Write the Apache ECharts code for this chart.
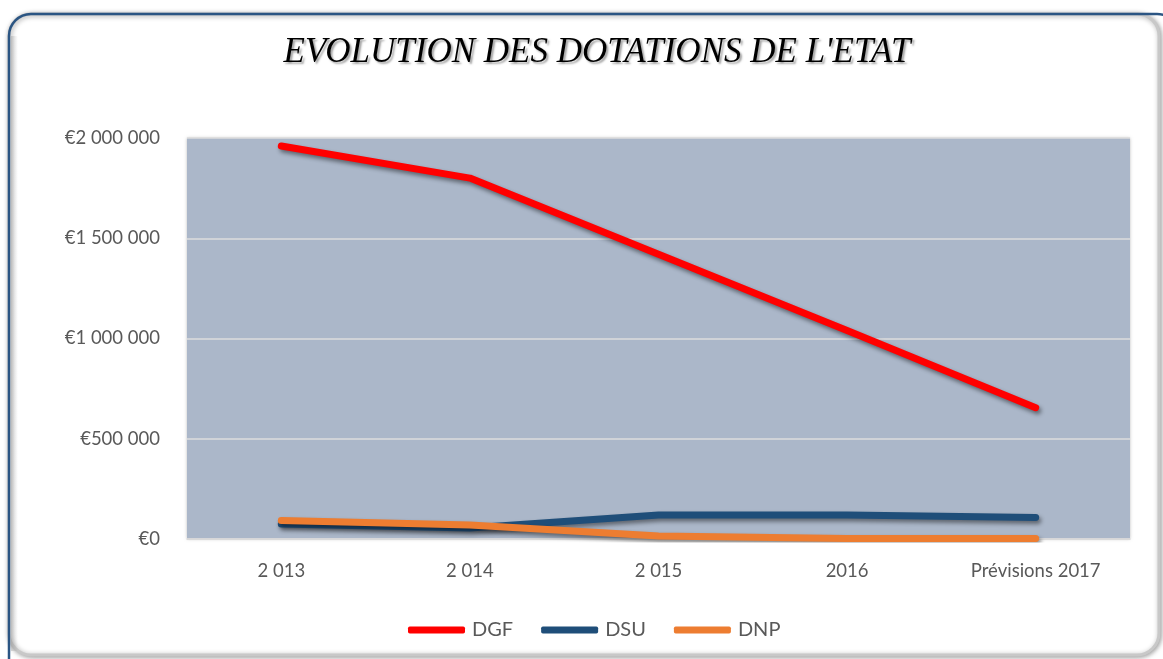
<!DOCTYPE html>
<html>
<head>
<meta charset="utf-8">
<script src="https://cdn.jsdelivr.net/npm/echarts@6/dist/echarts.min.js"></script>
<style>html,body{margin:0;padding:0;background:#fff;}#c{width:1163px;height:659px;}</style>
</head>
<body>
<div id="c"></div>
<script>
var categories = ['2 013', '2 014', '2 015', '2016', 'Prévisions 2017'];
var dgf = [1960000, 1800000, 1420000, 1040000, 655000];
var dsu = [75000, 55000, 120000, 120000, 107000];
var dnp = [92000, 70000, 15000, 3000, 2000];
var yTickLabels = {0: '€0', 500000: '€500 000', 1000000: '€1 000 000', 1500000: '€1 500 000', 2000000: '€2 000 000'};

var chart = echarts.init(document.getElementById('c'));
var lineShadow = {shadowColor: 'rgba(0,0,0,0.45)', shadowBlur: 4, shadowOffsetX: 2, shadowOffsetY: 3};
function mk(name, data, color, w) {
  return {
    name: name, type: 'line', data: data, symbol: 'none', smooth: false,
    lineStyle: Object.assign({color: color, width: w, cap: 'round', join: 'round'}, lineShadow),
    itemStyle: {color: color},
    z: 3
  };
}
chart.setOption({
  animation: false,
  backgroundColor: '#ffffff',
  graphic: [
    {type: 'rect', z: -10, shape: {x: 9, y: 14, width: 1150, height: 641, r: 22},
     style: {fill: '#ffffff', stroke: '#c8c8c8', lineWidth: 3, shadowBlur: 5, shadowColor: 'rgba(0,0,0,0.35)', shadowOffsetX: 1, shadowOffsetY: 1}},
    {type: 'rect', z: -9, shape: {x: 11, y: 36, width: 7, height: 615},
     style: {fill: new echarts.graphic.LinearGradient(0, 0, 1, 0, [{offset: 0, color: 'rgba(0,0,0,0.14)'}, {offset: 1, color: 'rgba(0,0,0,0)'}])}},
    {type: 'rect', z: -8, shape: {x: 9, y: 14, width: 1170, height: 680, r: 22},
     style: {fill: 'none', stroke: '#2b5583', lineWidth: 2.5}}
  ],
  title: {
    text: "EVOLUTION DES DOTATIONS DE L'ETAT",
    left: 592, top: 30, textAlign: 'center',
    textStyle: {fontFamily: 'Liberation Serif', fontStyle: 'italic', fontWeight: 'normal', fontSize: 35, color: '#000',
      textShadowColor: 'rgba(0,0,0,0.35)', textShadowBlur: 2, textShadowOffsetX: 2, textShadowOffsetY: 2}
  },
  legend: {
    bottom: 14, left: 403, itemWidth: 57, itemHeight: 7, itemGap: 28, icon: 'roundRect',
    textStyle: {fontFamily: 'Lato', fontSize: 20, color: '#595959', padding: [0, 0, 0, 2]},
    data: ['DGF', 'DSU', 'DNP']
  },
  grid: {left: 187, right: 33, top: 138, bottom: 120, show: true, backgroundColor: '#abb7c9', borderWidth: 0,
    shadowColor: 'rgba(0,0,0,0.25)', shadowBlur: 3, shadowOffsetY: 0},
  xAxis: {
    type: 'category', data: categories, boundaryGap: true,
    axisLine: {show: true, lineStyle: {color: '#d9d9d9', width: 1.5}},
    axisTick: {show: false},
    axisLabel: {fontFamily: 'Lato', fontSize: 18.5, color: '#595959', margin: 23}
  },
  yAxis: {
    type: 'value', min: 0, max: 2000000, interval: 500000,
    axisLine: {show: false}, axisTick: {show: false},
    splitLine: {lineStyle: {color: '#dcdcdc', width: 1.5}},
    axisLabel: {fontFamily: 'Lato', fontSize: 18.5, color: '#595959', margin: 27,
      formatter: function (v) { return yTickLabels[v] !== undefined ? yTickLabels[v] : ''; }}
  },
  series: [
    mk('DGF', dgf, '#ff0000', 7),
    mk('DSU', dsu, '#1f4e79', 7),
    mk('DNP', dnp, '#ed7d31', 7)
  ]
});
</script>
</body>
</html>
